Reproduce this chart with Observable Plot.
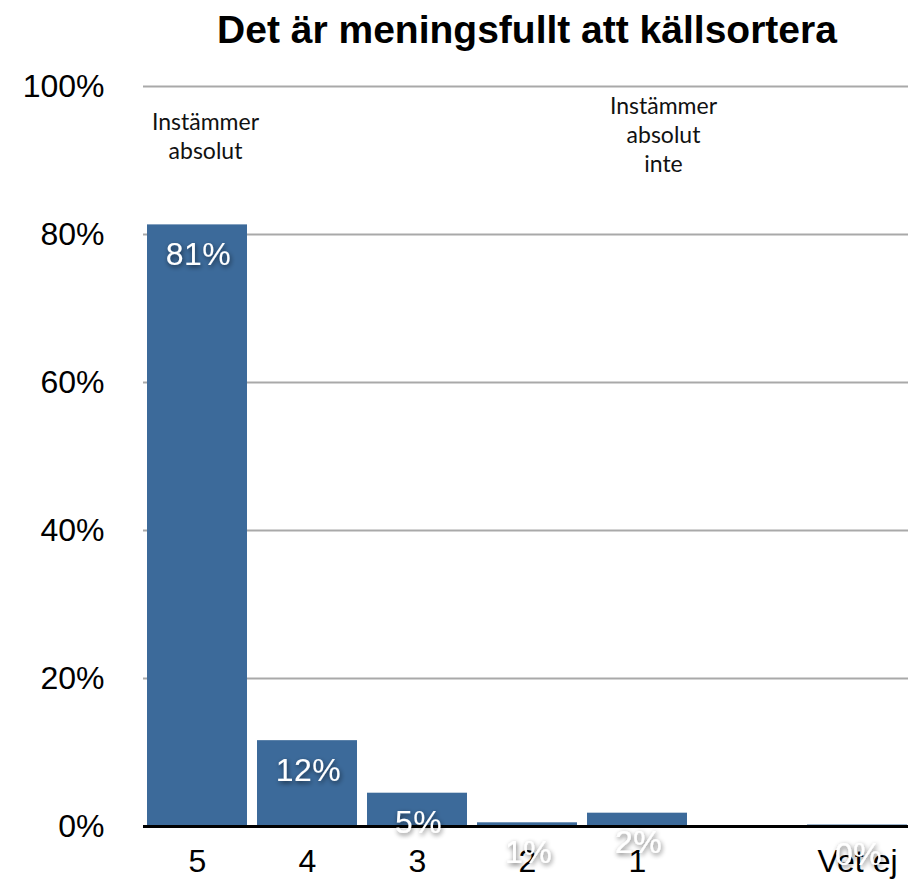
<!DOCTYPE html>
<html>
<head>
<meta charset="utf-8">
<script src="https://cdn.jsdelivr.net/npm/d3@7"></script>
<script src="https://cdn.jsdelivr.net/npm/@observablehq/plot@0.6"></script>
<style>
  body { margin: 0; background: #fff; overflow: hidden; }
  #chart svg { display: block; overflow: hidden; }
</style>
</head>
<body>
<div id="chart"></div>
<script>
const title = "Det är meningsfullt att källsortera";
const categories = ["5", "4", "3", "2", "1", " ", "Vet ej"];
const barCategories = ["5", "4", "3", "2", "1", "Vet ej"];
const values = [81.3, 11.6, 4.5, 0.5, 1.8, 0.2];
const valueLabels = ["81%", "12%", "5%", "1%", "2%", "0%"];
const yTicks = [0, 20, 40, 60, 80, 100];
const gridTicks = [20, 40, 60, 80, 100];
const noteLeft = {cat: "5", text: "Instämmer\nabsolut", y: 93.4};
const noteRight = {cat: "1", text: "Instämmer\nabsolut\ninte", y: 93.6};

const bars = barCategories.map((c, i) => ({cat: c, value: values[i], label: valueLabels[i]}));

const noteStyle = {x: "cat", y: "y", text: "text", fontSize: 23, lineHeight: 1.27, fontFamily: "Lato, 'Open Sans', sans-serif", fill: "#111"};

const chart = Plot.plot({
  width: 908,
  height: 880,
  marginLeft: 143,
  marginRight: -4,
  marginTop: 86,
  marginBottom: 54,
  style: {fontFamily: "'Liberation Sans', Helvetica, Arial, sans-serif", background: "#fff"},
  x: {domain: categories, paddingInner: 0.0908, paddingOuter: 0.0363, align: 0.5},
  y: {domain: [0, 100]},
  marks: [
    Plot.ruleY(gridTicks, {stroke: "#a9a9a9", strokeWidth: 2}),
    Plot.barY(bars, {x: "cat", y: "value", fill: "#3c6a9a"}),
    Plot.ruleY([0], {stroke: "#000", strokeWidth: 3}),
    Plot.axisY({ticks: yTicks, tickFormat: d => d + "%", tickSize: 0, tickPadding: 39, fontSize: 32, label: null}),
    Plot.axisX({tickSize: 0, tickPadding: 23, fontSize: 32, label: null, fill: "#000"}),
    Plot.text(bars, {x: "cat", y: "value", text: "label", dy: 30, fill: "#fff", fontSize: 32, dx: 1}),
    Plot.text([noteLeft], {...noteStyle, dx: 8}),
    Plot.text([noteRight], {...noteStyle, dx: 26}),
    Plot.text([title], {frameAnchor: "top", lineAnchor: "middle", dy: -56, dx: -1, fontSize: 39, fontWeight: "bold", fill: "#000"})
  ]
});
const svg = d3.select(chart);
svg.insert("defs", ":first-child").html(
  '<filter id="tshadow" x="-50%" y="-50%" width="200%" height="200%">' +
  '<feGaussianBlur in="SourceAlpha" stdDeviation="2.5" result="b"/>' +
  '<feOffset in="b" dx="0.5" dy="1.5" result="o"/>' +
  '<feComponentTransfer in="o" result="s"><feFuncA type="linear" slope="0.6"/></feComponentTransfer>' +
  '<feMerge><feMergeNode in="s"/><feMergeNode in="SourceGraphic"/></feMerge></filter>'
);
svg.selectAll("g").filter(function() {
  const f = (this.getAttribute("fill") || "").toLowerCase();
  return f === "#fff" || f === "white" || f === "#ffffff";
}).selectAll("text").attr("filter", "url(#tshadow)").style("letter-spacing", "0.5px");
document.getElementById("chart").append(chart);
</script>
</body>
</html>
